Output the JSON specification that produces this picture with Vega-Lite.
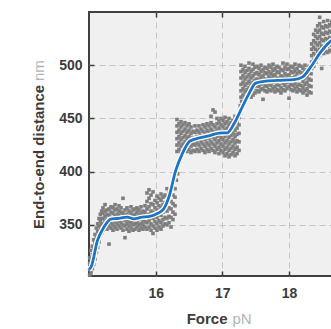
{
  "$schema": "https://vega.github.io/schema/vega-lite/v6.json",
  "autosize": {"type": "none"},
  "padding": {"left": 89, "top": 12, "right": 5, "bottom": 53},
  "width": 260,
  "height": 264,
  "background": "#ffffff",
  "config": {
    "font": "Liberation Sans",
    "view": {"fill": "#f0f0f0", "stroke": "#404040", "strokeWidth": 2}
  },
  "datasets": {
    "pts": [
      {"force":15.01,"dist":303},{"force":15.01,"dist":308},{"force":15.01,"dist":314},{"force":15.01,"dist":319},
      {"force":15.03,"dist":305},{"force":15.03,"dist":311},{"force":15.03,"dist":318},{"force":15.03,"dist":326},
      {"force":15.05,"dist":309},{"force":15.05,"dist":316},{"force":15.05,"dist":322},{"force":15.05,"dist":330},
      {"force":15.07,"dist":313},{"force":15.07,"dist":321},{"force":15.07,"dist":328},{"force":15.07,"dist":336},
      {"force":15.09,"dist":318},{"force":15.09,"dist":326},{"force":15.09,"dist":333},{"force":15.09,"dist":341},
      {"force":15.11,"dist":324},{"force":15.11,"dist":331},{"force":15.11,"dist":339},{"force":15.11,"dist":347},
      {"force":15.13,"dist":329},{"force":15.13,"dist":337},{"force":15.13,"dist":344},{"force":15.13,"dist":351},
      {"force":15.15,"dist":334},{"force":15.15,"dist":342},{"force":15.15,"dist":349},{"force":15.15,"dist":356},
      {"force":15.17,"dist":340},{"force":15.17,"dist":346},{"force":15.17,"dist":353},{"force":15.17,"dist":360},
      {"force":15.19,"dist":343},{"force":15.19,"dist":350},{"force":15.19,"dist":356},{"force":15.19,"dist":363},
      {"force":15.21,"dist":345},{"force":15.21,"dist":351},{"force":15.21,"dist":356},{"force":15.21,"dist":361},{"force":15.21,"dist":366},
      {"force":15.24,"dist":348},{"force":15.24,"dist":353},{"force":15.24,"dist":358},{"force":15.24,"dist":363},{"force":15.24,"dist":369},
      {"force":15.27,"dist":346},{"force":15.27,"dist":350},{"force":15.27,"dist":355},{"force":15.27,"dist":360},{"force":15.27,"dist":364},
      {"force":15.30,"dist":332},{"force":15.30,"dist":349},{"force":15.30,"dist":354},{"force":15.30,"dist":359},{"force":15.30,"dist":365},
      {"force":15.33,"dist":347},{"force":15.33,"dist":352},{"force":15.33,"dist":357},{"force":15.33,"dist":362},{"force":15.33,"dist":367},
      {"force":15.36,"dist":345},{"force":15.36,"dist":350},{"force":15.36,"dist":355},{"force":15.36,"dist":361},{"force":15.36,"dist":366},
      {"force":15.39,"dist":348},{"force":15.39,"dist":353},{"force":15.39,"dist":358},{"force":15.39,"dist":364},{"force":15.39,"dist":369},
      {"force":15.42,"dist":346},{"force":15.42,"dist":351},{"force":15.42,"dist":356},{"force":15.42,"dist":360},{"force":15.42,"dist":365},
      {"force":15.45,"dist":349},{"force":15.45,"dist":354},{"force":15.45,"dist":359},{"force":15.45,"dist":363},{"force":15.45,"dist":368},
      {"force":15.48,"dist":347},{"force":15.48,"dist":352},{"force":15.48,"dist":357},{"force":15.48,"dist":362},{"force":15.48,"dist":366},
      {"force":15.51,"dist":345},{"force":15.51,"dist":350},{"force":15.51,"dist":356},{"force":15.51,"dist":361},{"force":15.51,"dist":375},
      {"force":15.54,"dist":338},{"force":15.54,"dist":349},{"force":15.54,"dist":354},{"force":15.54,"dist":359},{"force":15.54,"dist":364},
      {"force":15.57,"dist":346},{"force":15.57,"dist":351},{"force":15.57,"dist":355},{"force":15.57,"dist":360},{"force":15.57,"dist":366},
      {"force":15.60,"dist":344},{"force":15.60,"dist":349},{"force":15.60,"dist":353},{"force":15.60,"dist":358},{"force":15.60,"dist":363},
      {"force":15.63,"dist":347},{"force":15.63,"dist":352},{"force":15.63,"dist":357},{"force":15.63,"dist":361},{"force":15.63,"dist":367},
      {"force":15.66,"dist":345},{"force":15.66,"dist":350},{"force":15.66,"dist":354},{"force":15.66,"dist":359},{"force":15.66,"dist":364},
      {"force":15.69,"dist":346},{"force":15.69,"dist":351},{"force":15.69,"dist":356},{"force":15.69,"dist":360},{"force":15.69,"dist":365},
      {"force":15.72,"dist":348},{"force":15.72,"dist":352},{"force":15.72,"dist":357},{"force":15.72,"dist":362},{"force":15.72,"dist":366},
      {"force":15.75,"dist":345},{"force":15.75,"dist":350},{"force":15.75,"dist":355},{"force":15.75,"dist":359},{"force":15.75,"dist":364},
      {"force":15.78,"dist":347},{"force":15.78,"dist":351},{"force":15.78,"dist":356},{"force":15.78,"dist":361},{"force":15.78,"dist":367},
      {"force":15.81,"dist":346},{"force":15.81,"dist":350},{"force":15.81,"dist":354},{"force":15.81,"dist":359},{"force":15.81,"dist":363},
      {"force":15.84,"dist":348},{"force":15.84,"dist":353},{"force":15.84,"dist":358},{"force":15.84,"dist":362},{"force":15.84,"dist":368},
      {"force":15.87,"dist":346},{"force":15.87,"dist":352},{"force":15.87,"dist":358},{"force":15.87,"dist":365},{"force":15.87,"dist":372},{"force":15.87,"dist":380},
      {"force":15.90,"dist":348},{"force":15.90,"dist":354},{"force":15.90,"dist":360},{"force":15.90,"dist":367},{"force":15.90,"dist":375},{"force":15.90,"dist":383},
      {"force":15.93,"dist":345},{"force":15.93,"dist":351},{"force":15.93,"dist":357},{"force":15.93,"dist":363},{"force":15.93,"dist":370},{"force":15.93,"dist":378},
      {"force":15.96,"dist":342},{"force":15.96,"dist":349},{"force":15.96,"dist":356},{"force":15.96,"dist":362},{"force":15.96,"dist":369},{"force":15.96,"dist":381},
      {"force":15.99,"dist":347},{"force":15.99,"dist":353},{"force":15.99,"dist":359},{"force":15.99,"dist":366},{"force":15.99,"dist":373},
      {"force":16.02,"dist":345},{"force":16.02,"dist":351},{"force":16.02,"dist":357},{"force":16.02,"dist":364},{"force":16.02,"dist":371},{"force":16.02,"dist":377},
      {"force":16.05,"dist":348},{"force":16.05,"dist":354},{"force":16.05,"dist":361},{"force":16.05,"dist":368},{"force":16.05,"dist":375},
      {"force":16.08,"dist":346},{"force":16.08,"dist":352},{"force":16.08,"dist":359},{"force":16.08,"dist":366},{"force":16.08,"dist":373},{"force":16.08,"dist":379},
      {"force":16.11,"dist":349},{"force":16.11,"dist":355},{"force":16.11,"dist":362},{"force":16.11,"dist":369},{"force":16.11,"dist":376},
      {"force":16.14,"dist":351},{"force":16.14,"dist":357},{"force":16.14,"dist":364},{"force":16.14,"dist":371},{"force":16.14,"dist":378},
      {"force":16.17,"dist":350},{"force":16.17,"dist":356},{"force":16.17,"dist":363},{"force":16.17,"dist":370},{"force":16.17,"dist":377},{"force":16.17,"dist":384},
      {"force":16.20,"dist":352},{"force":16.20,"dist":358},{"force":16.20,"dist":366},{"force":16.20,"dist":373},{"force":16.20,"dist":380},
      {"force":16.23,"dist":348},{"force":16.23,"dist":357},{"force":16.23,"dist":365},{"force":16.23,"dist":372},{"force":16.23,"dist":379},{"force":16.23,"dist":386},
      {"force":16.26,"dist":355},{"force":16.26,"dist":362},{"force":16.26,"dist":370},{"force":16.26,"dist":378},{"force":16.26,"dist":385},
      {"force":16.29,"dist":360},{"force":16.29,"dist":368},{"force":16.29,"dist":376},{"force":16.29,"dist":384},
      {"force":16.31,"dist":392},{"force":16.33,"dist":398},{"force":16.33,"dist":405},{"force":16.36,"dist":410},{"force":16.38,"dist":413},
      {"force":16.32,"dist":419},{"force":16.32,"dist":425},{"force":16.32,"dist":431},{"force":16.32,"dist":437},{"force":16.32,"dist":443},{"force":16.32,"dist":449},
      {"force":16.35,"dist":421},{"force":16.35,"dist":427},{"force":16.35,"dist":433},{"force":16.35,"dist":439},{"force":16.35,"dist":445},
      {"force":16.38,"dist":418},{"force":16.38,"dist":424},{"force":16.38,"dist":430},{"force":16.38,"dist":436},{"force":16.38,"dist":442},{"force":16.38,"dist":447},
      {"force":16.41,"dist":420},{"force":16.41,"dist":426},{"force":16.41,"dist":432},{"force":16.41,"dist":438},{"force":16.41,"dist":444},
      {"force":16.44,"dist":422},{"force":16.44,"dist":428},{"force":16.44,"dist":434},{"force":16.44,"dist":440},{"force":16.44,"dist":446},
      {"force":16.47,"dist":419},{"force":16.47,"dist":425},{"force":16.47,"dist":431},{"force":16.47,"dist":437},{"force":16.47,"dist":443},
      {"force":16.50,"dist":421},{"force":16.50,"dist":427},{"force":16.50,"dist":433},{"force":16.50,"dist":439},{"force":16.50,"dist":445},
      {"force":16.53,"dist":418},{"force":16.53,"dist":424},{"force":16.53,"dist":430},{"force":16.53,"dist":436},{"force":16.53,"dist":442},
      {"force":16.56,"dist":420},{"force":16.56,"dist":426},{"force":16.56,"dist":432},{"force":16.56,"dist":438},
      {"force":16.59,"dist":419},{"force":16.59,"dist":425},{"force":16.59,"dist":431},{"force":16.59,"dist":437},{"force":16.59,"dist":443},
      {"force":16.62,"dist":421},{"force":16.62,"dist":427},{"force":16.62,"dist":433},{"force":16.62,"dist":439},
      {"force":16.65,"dist":419},{"force":16.65,"dist":425},{"force":16.65,"dist":431},{"force":16.65,"dist":437},{"force":16.65,"dist":443},
      {"force":16.68,"dist":422},{"force":16.68,"dist":428},{"force":16.68,"dist":434},{"force":16.68,"dist":440},
      {"force":16.71,"dist":420},{"force":16.71,"dist":426},{"force":16.71,"dist":432},{"force":16.71,"dist":438},{"force":16.71,"dist":444},
      {"force":16.74,"dist":418},{"force":16.74,"dist":424},{"force":16.74,"dist":430},{"force":16.74,"dist":436},{"force":16.74,"dist":442},
      {"force":16.77,"dist":421},{"force":16.77,"dist":427},{"force":16.77,"dist":433},{"force":16.77,"dist":439},{"force":16.77,"dist":445},
      {"force":16.80,"dist":419},{"force":16.80,"dist":425},{"force":16.80,"dist":431},{"force":16.80,"dist":437},{"force":16.80,"dist":443},
      {"force":16.83,"dist":422},{"force":16.83,"dist":428},{"force":16.83,"dist":434},{"force":16.83,"dist":440},{"force":16.83,"dist":446},{"force":16.83,"dist":452},
      {"force":16.86,"dist":420},{"force":16.86,"dist":426},{"force":16.86,"dist":432},{"force":16.86,"dist":438},{"force":16.86,"dist":444},{"force":16.86,"dist":458},
      {"force":16.89,"dist":418},{"force":16.89,"dist":424},{"force":16.89,"dist":430},{"force":16.89,"dist":436},{"force":16.89,"dist":442},{"force":16.89,"dist":456},
      {"force":16.92,"dist":421},{"force":16.92,"dist":427},{"force":16.92,"dist":433},{"force":16.92,"dist":439},{"force":16.92,"dist":445},{"force":16.92,"dist":450},
      {"force":16.95,"dist":417},{"force":16.95,"dist":423},{"force":16.95,"dist":429},{"force":16.95,"dist":435},{"force":16.95,"dist":441},{"force":16.95,"dist":447},
      {"force":16.98,"dist":420},{"force":16.98,"dist":426},{"force":16.98,"dist":432},{"force":16.98,"dist":438},{"force":16.98,"dist":444},{"force":16.98,"dist":450},
      {"force":17.01,"dist":418},{"force":17.01,"dist":424},{"force":17.01,"dist":430},{"force":17.01,"dist":436},{"force":17.01,"dist":442},{"force":17.01,"dist":448},
      {"force":17.04,"dist":415},{"force":17.04,"dist":421},{"force":17.04,"dist":427},{"force":17.04,"dist":433},{"force":17.04,"dist":439},{"force":17.04,"dist":445},{"force":17.04,"dist":451},
      {"force":17.07,"dist":417},{"force":17.07,"dist":423},{"force":17.07,"dist":429},{"force":17.07,"dist":435},{"force":17.07,"dist":441},{"force":17.07,"dist":447},
      {"force":17.10,"dist":414},{"force":17.10,"dist":420},{"force":17.10,"dist":426},{"force":17.10,"dist":432},{"force":17.10,"dist":438},{"force":17.10,"dist":444},{"force":17.10,"dist":450},
      {"force":17.13,"dist":416},{"force":17.13,"dist":422},{"force":17.13,"dist":428},{"force":17.13,"dist":434},{"force":17.13,"dist":440},{"force":17.13,"dist":446},
      {"force":17.16,"dist":418},{"force":17.16,"dist":424},{"force":17.16,"dist":430},{"force":17.16,"dist":436},{"force":17.16,"dist":442},{"force":17.16,"dist":448},
      {"force":17.19,"dist":415},{"force":17.19,"dist":421},{"force":17.19,"dist":427},{"force":17.19,"dist":433},{"force":17.19,"dist":439},{"force":17.19,"dist":445},{"force":17.19,"dist":452},
      {"force":17.22,"dist":417},{"force":17.22,"dist":423},{"force":17.22,"dist":429},{"force":17.22,"dist":435},{"force":17.22,"dist":441},{"force":17.22,"dist":447},
      {"force":17.25,"dist":420},{"force":17.25,"dist":428},{"force":17.25,"dist":436},{"force":17.25,"dist":444},{"force":17.25,"dist":451},
      {"force":17.27,"dist":455},{"force":17.27,"dist":462},{"force":17.29,"dist":466},
      {"force":17.28,"dist":470},{"force":17.28,"dist":476},{"force":17.28,"dist":482},{"force":17.28,"dist":488},{"force":17.28,"dist":494},{"force":17.28,"dist":500},
      {"force":17.31,"dist":472},{"force":17.31,"dist":478},{"force":17.31,"dist":484},{"force":17.31,"dist":490},{"force":17.31,"dist":496},
      {"force":17.34,"dist":469},{"force":17.34,"dist":475},{"force":17.34,"dist":481},{"force":17.34,"dist":487},{"force":17.34,"dist":493},{"force":17.34,"dist":499},
      {"force":17.37,"dist":471},{"force":17.37,"dist":477},{"force":17.37,"dist":483},{"force":17.37,"dist":489},{"force":17.37,"dist":495},
      {"force":17.40,"dist":473},{"force":17.40,"dist":479},{"force":17.40,"dist":485},{"force":17.40,"dist":491},{"force":17.40,"dist":497},{"force":17.40,"dist":502},
      {"force":17.43,"dist":470},{"force":17.43,"dist":476},{"force":17.43,"dist":482},{"force":17.43,"dist":488},{"force":17.43,"dist":494},
      {"force":17.46,"dist":472},{"force":17.46,"dist":478},{"force":17.46,"dist":484},{"force":17.46,"dist":490},{"force":17.46,"dist":496},{"force":17.46,"dist":501},
      {"force":17.49,"dist":474},{"force":17.49,"dist":480},{"force":17.49,"dist":486},{"force":17.49,"dist":492},{"force":17.49,"dist":498},
      {"force":17.52,"dist":476},{"force":17.52,"dist":481},{"force":17.52,"dist":487},{"force":17.52,"dist":493},{"force":17.52,"dist":499},
      {"force":17.55,"dist":475},{"force":17.55,"dist":480},{"force":17.55,"dist":486},{"force":17.55,"dist":491},{"force":17.55,"dist":497},
      {"force":17.58,"dist":477},{"force":17.58,"dist":482},{"force":17.58,"dist":488},{"force":17.58,"dist":494},{"force":17.58,"dist":500},
      {"force":17.61,"dist":468},{"force":17.61,"dist":478},{"force":17.61,"dist":484},{"force":17.61,"dist":490},{"force":17.61,"dist":496},
      {"force":17.64,"dist":476},{"force":17.64,"dist":481},{"force":17.64,"dist":487},{"force":17.64,"dist":493},{"force":17.64,"dist":498},
      {"force":17.67,"dist":475},{"force":17.67,"dist":480},{"force":17.67,"dist":486},{"force":17.67,"dist":492},{"force":17.67,"dist":497},
      {"force":17.70,"dist":477},{"force":17.70,"dist":483},{"force":17.70,"dist":489},{"force":17.70,"dist":494},{"force":17.70,"dist":500},
      {"force":17.73,"dist":476},{"force":17.73,"dist":481},{"force":17.73,"dist":487},{"force":17.73,"dist":492},{"force":17.73,"dist":498},
      {"force":17.76,"dist":478},{"force":17.76,"dist":484},{"force":17.76,"dist":490},{"force":17.76,"dist":495},{"force":17.76,"dist":501},
      {"force":17.79,"dist":475},{"force":17.79,"dist":480},{"force":17.79,"dist":486},{"force":17.79,"dist":491},{"force":17.79,"dist":497},
      {"force":17.82,"dist":477},{"force":17.82,"dist":482},{"force":17.82,"dist":488},{"force":17.82,"dist":494},{"force":17.82,"dist":499},
      {"force":17.85,"dist":476},{"force":17.85,"dist":481},{"force":17.85,"dist":487},{"force":17.85,"dist":493},{"force":17.85,"dist":498},
      {"force":17.88,"dist":474},{"force":17.88,"dist":479},{"force":17.88,"dist":485},{"force":17.88,"dist":490},{"force":17.88,"dist":496},
      {"force":17.91,"dist":477},{"force":17.91,"dist":483},{"force":17.91,"dist":489},{"force":17.91,"dist":495},{"force":17.91,"dist":502},
      {"force":17.94,"dist":476},{"force":17.94,"dist":481},{"force":17.94,"dist":487},{"force":17.94,"dist":492},{"force":17.94,"dist":498},
      {"force":17.97,"dist":478},{"force":17.97,"dist":484},{"force":17.97,"dist":490},{"force":17.97,"dist":496},{"force":17.97,"dist":501},
      {"force":18.00,"dist":469},{"force":18.00,"dist":480},{"force":18.00,"dist":486},{"force":18.00,"dist":491},{"force":18.00,"dist":497},
      {"force":18.03,"dist":477},{"force":18.03,"dist":482},{"force":18.03,"dist":488},{"force":18.03,"dist":494},{"force":18.03,"dist":499},
      {"force":18.06,"dist":476},{"force":18.06,"dist":481},{"force":18.06,"dist":487},{"force":18.06,"dist":493},{"force":18.06,"dist":498},
      {"force":18.09,"dist":478},{"force":18.09,"dist":483},{"force":18.09,"dist":489},{"force":18.09,"dist":495},{"force":18.09,"dist":501},
      {"force":18.12,"dist":475},{"force":18.12,"dist":480},{"force":18.12,"dist":486},{"force":18.12,"dist":492},{"force":18.12,"dist":497},
      {"force":18.15,"dist":477},{"force":18.15,"dist":482},{"force":18.15,"dist":488},{"force":18.15,"dist":494},{"force":18.15,"dist":500},
      {"force":18.18,"dist":476},{"force":18.18,"dist":481},{"force":18.18,"dist":487},{"force":18.18,"dist":493},{"force":18.18,"dist":499},
      {"force":18.21,"dist":474},{"force":18.21,"dist":479},{"force":18.21,"dist":485},{"force":18.21,"dist":491},{"force":18.21,"dist":497},
      {"force":18.24,"dist":476},{"force":18.24,"dist":482},{"force":18.24,"dist":488},{"force":18.24,"dist":494},{"force":18.24,"dist":500},
      {"force":18.27,"dist":472},{"force":18.27,"dist":478},{"force":18.27,"dist":484},{"force":18.27,"dist":490},{"force":18.27,"dist":496},
      {"force":18.30,"dist":475},{"force":18.30,"dist":481},{"force":18.30,"dist":487},{"force":18.30,"dist":493},{"force":18.30,"dist":499},
      {"force":18.33,"dist":474},{"force":18.33,"dist":480},{"force":18.33,"dist":486},{"force":18.33,"dist":492},{"force":18.33,"dist":498},
      {"force":18.34,"dist":497},{"force":18.34,"dist":503},{"force":18.34,"dist":509},{"force":18.34,"dist":515},{"force":18.34,"dist":520},
      {"force":18.37,"dist":499},{"force":18.37,"dist":505},{"force":18.37,"dist":511},{"force":18.37,"dist":517},{"force":18.37,"dist":523},{"force":18.37,"dist":529},
      {"force":18.40,"dist":503},{"force":18.40,"dist":509},{"force":18.40,"dist":515},{"force":18.40,"dist":521},{"force":18.40,"dist":527},{"force":18.40,"dist":533},
      {"force":18.43,"dist":507},{"force":18.43,"dist":513},{"force":18.43,"dist":519},{"force":18.43,"dist":525},{"force":18.43,"dist":531},{"force":18.43,"dist":537},
      {"force":18.46,"dist":509},{"force":18.46,"dist":515},{"force":18.46,"dist":521},{"force":18.46,"dist":527},{"force":18.46,"dist":533},{"force":18.46,"dist":539},{"force":18.46,"dist":545},
      {"force":18.49,"dist":497},{"force":18.49,"dist":512},{"force":18.49,"dist":518},{"force":18.49,"dist":524},{"force":18.49,"dist":530},{"force":18.49,"dist":536},
      {"force":18.52,"dist":511},{"force":18.52,"dist":517},{"force":18.52,"dist":523},{"force":18.52,"dist":529},{"force":18.52,"dist":535},{"force":18.52,"dist":541},
      {"force":18.55,"dist":513},{"force":18.55,"dist":519},{"force":18.55,"dist":525},{"force":18.55,"dist":531},{"force":18.55,"dist":537},
      {"force":18.58,"dist":512},{"force":18.58,"dist":518},{"force":18.58,"dist":524},{"force":18.58,"dist":530},{"force":18.58,"dist":536},{"force":18.58,"dist":542},
      {"force":18.61,"dist":514},{"force":18.61,"dist":520},{"force":18.61,"dist":526},{"force":18.61,"dist":532},{"force":18.61,"dist":538},
      {"force":18.64,"dist":513},{"force":18.64,"dist":519},{"force":18.64,"dist":525},{"force":18.64,"dist":531},{"force":18.64,"dist":537},{"force":18.64,"dist":541},
      {"force":18.67,"dist":515},{"force":18.67,"dist":521},{"force":18.67,"dist":527},{"force":18.67,"dist":533},{"force":18.67,"dist":539},
      {"force":18.70,"dist":514},{"force":18.70,"dist":520},{"force":18.70,"dist":526},{"force":18.70,"dist":532},{"force":18.70,"dist":538},
      {"force":18.73,"dist":516},{"force":18.73,"dist":522},{"force":18.73,"dist":528},{"force":18.73,"dist":534},{"force":18.73,"dist":540},
      {"force":18.76,"dist":515},{"force":18.76,"dist":521},{"force":18.76,"dist":527},{"force":18.76,"dist":533},{"force":18.76,"dist":539},
      {"force":18.79,"dist":517},{"force":18.79,"dist":523},{"force":18.79,"dist":529},{"force":18.79,"dist":535},{"force":18.79,"dist":541},
      {"force":18.82,"dist":516},{"force":18.82,"dist":522},{"force":18.82,"dist":528},{"force":18.82,"dist":534},{"force":18.82,"dist":540},
      {"force":18.85,"dist":518},{"force":18.85,"dist":524},{"force":18.85,"dist":530},{"force":18.85,"dist":536},{"force":18.85,"dist":542},
      {"force":18.88,"dist":517},{"force":18.88,"dist":523},{"force":18.88,"dist":529},{"force":18.88,"dist":535},{"force":18.88,"dist":541}
    ],
    "fit": [
      {"force":15.0,"dist":308},{"force":15.035,"dist":311},{"force":15.125,"dist":335},{"force":15.225,"dist":348},
      {"force":15.325,"dist":355.5},{"force":15.425,"dist":356},{"force":15.575,"dist":357.3},{"force":15.675,"dist":355.7},
      {"force":15.775,"dist":357},{"force":15.925,"dist":358.2},{"force":16.025,"dist":360.8},{"force":16.115,"dist":364.5},
      {"force":16.2,"dist":376.4},{"force":16.3,"dist":401},{"force":16.4,"dist":417},{"force":16.515,"dist":428.8},
      {"force":16.675,"dist":432},{"force":16.825,"dist":434.2},{"force":16.95,"dist":436.3},{"force":17.075,"dist":436.5},
      {"force":17.175,"dist":445},{"force":17.275,"dist":457.6},{"force":17.4,"dist":473.3},{"force":17.5,"dist":483.2},
      {"force":17.625,"dist":484.8},{"force":17.825,"dist":485.7},{"force":18.075,"dist":486.4},{"force":18.2,"dist":488.8},
      {"force":18.325,"dist":498.2},{"force":18.475,"dist":512.3},{"force":18.625,"dist":522.6},{"force":18.75,"dist":526},
      {"force":18.9,"dist":528}
    ]
  },
  "resolve": {"axis": {"x": "independent", "y": "independent"}},
  "layer": [
    {
      "data": {"name": "pts"},
      "mark": {"type": "square", "filled": true, "color": "#7e7e7e", "opacity": 1, "size": 13},
      "encoding": {
        "x": {
          "field": "force", "type": "quantitative",
          "scale": {"domain": [15.0, 18.9], "nice": false, "zero": false},
          "axis": {
            "orient": "bottom", "values": [16, 17, 18], "domain": false,
            "grid": true, "gridColor": "#c6c6c6", "gridDash": [6, 4], "gridWidth": 1,
            "ticks": true, "tickSize": -5, "tickWidth": 1.5, "tickColor": "#3c3c3c",
            "labelFontSize": 14, "labelFontWeight": "bold", "labelColor": "#3c3c3c",
            "labelBaseline": "alphabetic", "labelPadding": 26,
            "title": "Force", "titleFontSize": 15, "titleFontWeight": "bold", "titleColor": "#3c3c3c",
            "titleAlign": "right", "titleX": 138, "titleY": 47, "titleBaseline": "alphabetic"
          }
        },
        "y": {
          "field": "dist", "type": "quantitative",
          "scale": {"domain": [302, 550], "nice": false, "zero": false},
          "axis": {
            "orient": "left", "values": [350, 400, 450, 500], "domain": false,
            "grid": true, "gridColor": "#c6c6c6", "gridDash": [6, 4], "gridWidth": 1,
            "ticks": true, "tickSize": -5, "tickWidth": 1.5, "tickColor": "#3c3c3c",
            "labelFontSize": 14, "labelFontWeight": "bold", "labelColor": "#3c3c3c",
            "labelPadding": 12,
            "title": "End-to-end distance", "titleFontSize": 15, "titleFontWeight": "bold", "titleColor": "#3c3c3c",
            "titleAngle": 270, "titleAlign": "left", "titleX": -46, "titleY": 216.5, "titleBaseline": "alphabetic"
          }
        }
      }
    },
    {
      "data": {"name": "fit"},
      "mark": {"type": "line", "color": "#ffffff", "strokeWidth": 5.5, "interpolate": "monotone"},
      "encoding": {
        "x": {
          "field": "force", "type": "quantitative",
          "scale": {"domain": [15.0, 18.9], "nice": false, "zero": false},
          "axis": {
            "orient": "top", "values": [16, 17, 18], "domain": false, "grid": false,
            "labels": false, "ticks": true, "tickSize": -5, "tickWidth": 1.5, "tickColor": "#3c3c3c",
            "title": null
          }
        },
        "y": {
          "field": "dist", "type": "quantitative",
          "scale": {"domain": [302, 550], "nice": false, "zero": false},
          "axis": {
            "orient": "left", "domain": false, "grid": false, "labels": false, "ticks": false,
            "title": "nm", "titleFontSize": 15, "titleFontWeight": "normal", "titleColor": "#b4b4b4",
            "titleAngle": 270, "titleAlign": "left", "titleX": -46, "titleY": 68.5, "titleBaseline": "alphabetic"
          }
        }
      }
    },
    {
      "data": {"name": "fit"},
      "mark": {"type": "line", "color": "#1c74c6", "strokeWidth": 2.8, "interpolate": "monotone"},
      "encoding": {
        "x": {
          "field": "force", "type": "quantitative",
          "scale": {"domain": [15.0, 18.9], "nice": false, "zero": false},
          "axis": {
            "orient": "bottom", "domain": false, "grid": false, "labels": false, "ticks": false,
            "title": "pN", "titleFontSize": 15, "titleFontWeight": "normal", "titleColor": "#b4b4b4",
            "titleAlign": "left", "titleX": 143, "titleY": 47, "titleBaseline": "alphabetic"
          }
        },
        "y": {
          "field": "dist", "type": "quantitative",
          "scale": {"domain": [302, 550], "nice": false, "zero": false},
          "axis": null
        }
      }
    }
  ]
}
